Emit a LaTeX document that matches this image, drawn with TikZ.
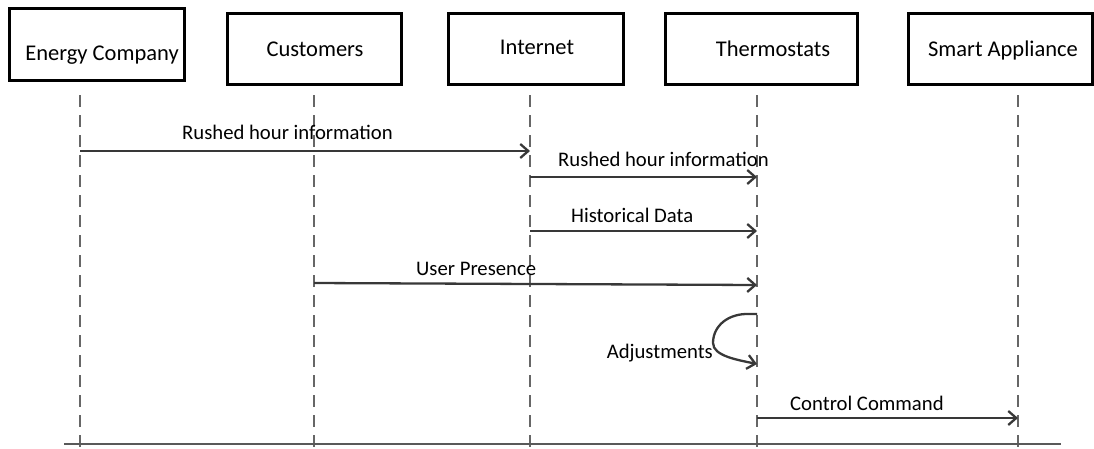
\documentclass[tikz,border=0pt]{standalone}
\usepackage{fontspec}
\setmainfont{Carlito}
\usetikzlibrary{arrows.meta}
\begin{document}
\begin{tikzpicture}[x=1pt,y=-1pt,
  box/.style={draw=black, line width=3pt, inner sep=0pt, fill=white},
  boxtext/.style={anchor=base, font=\fontsize{22.5}{27}\selectfont, inner sep=0pt},
  lifeline/.style={draw=black!60, line width=1.5pt, dash pattern=on 12pt off 8pt},
  baseline/.style={draw=black!65, line width=1.8pt},
  msg/.style={draw=black!78, line width=2.3pt, -{Straight Barb[length=8pt,width=14pt,line width=2.3pt]}},
  msgtext/.style={font=\fontsize{20.7}{24}\selectfont, inner sep=0pt}]
\useasboundingbox (0,0) rectangle (1094,448);

% lifelines
\coordinate (ecT) at (80,95);   \coordinate (ecB) at (80,448);
\coordinate (cuT) at (314,95);  \coordinate (cuB) at (314,448);
\coordinate (inT) at (530,95);  \coordinate (inB) at (530,448);
\coordinate (thT) at (757,95);  \coordinate (thB) at (757,448);
\coordinate (saT) at (1018,95); \coordinate (saB) at (1018,448);
\draw[lifeline] (ecT) -- (ecB);
\draw[lifeline] (cuT) -- (cuB);
\draw[lifeline] (inT) -- (inB);
\draw[lifeline] (thT) -- (thB);
\draw[lifeline] (saT) -- (saB);

% bottom line
\coordinate (blL) at (64,444); \coordinate (blR) at (1061,444);
\draw[baseline] (blL) -- (blR);

% boxes
\node[box, minimum width=175pt, minimum height=72pt] (ecbox) at (96.5,44) {};
\node[boxtext] (ectxt) at (102,60) {Energy Company};
\node[box, minimum width=174pt, minimum height=71pt] (cubox) at (314,48.5) {};
\node[boxtext] (cutxt) at (315,56) {Customers};
\node[box, minimum width=175pt, minimum height=71pt] (inbox) at (535.5,48.5) {};
\node[boxtext] (intxt) at (537,54) {Internet};
\node[box, minimum width=192pt, minimum height=71pt] (thbox) at (761,48.5) {};
\node[boxtext] (thtxt) at (773,56) {Thermostats};
\node[box, minimum width=184pt, minimum height=71pt] (sabox) at (1000,48.5) {};
\node[boxtext] (satxt) at (1003,56) {Smart Appliance};

% messages
\coordinate (m1s) at (80,151);  \coordinate (m1e) at (530,151);
\draw[msg] (m1s) -- (m1e);
\node[msgtext, anchor=base west] (m1t) at (182,139) {Rushed hour information};

\coordinate (m2s) at (530,177); \coordinate (m2e) at (757,177);
\draw[msg] (m2s) -- (m2e);
\node[msgtext, anchor=base west] (m2t) at (558,166) {Rushed hour information};

\coordinate (m3s) at (530,231); \coordinate (m3e) at (757,231);
\draw[msg] (m3s) -- (m3e);
\node[msgtext, anchor=base west] (m3t) at (571,222) {Historical Data};

\coordinate (m4s) at (314,283); \coordinate (m4e) at (757,285);
\draw[msg] (m4s) -- (m4e);
\node[msgtext, anchor=base west] (m4t) at (416,275) {User Presence};

\coordinate (adjS) at (757,314); \coordinate (adjE) at (757,364);
\draw[msg] (adjS) -- (750,314) .. controls (728,313) and (713,326) .. (713,343) .. controls (713,356) and (738,360) .. (adjE);
\node[msgtext, anchor=base east] (adjt) at (713,358) {Adjustments};

\coordinate (m6s) at (757,418); \coordinate (m6e) at (1018,418);
\draw[msg] (m6s) -- (m6e);
\node[msgtext, anchor=base west] (m6t) at (790,410) {Control Command};
\end{tikzpicture}
\end{document}
